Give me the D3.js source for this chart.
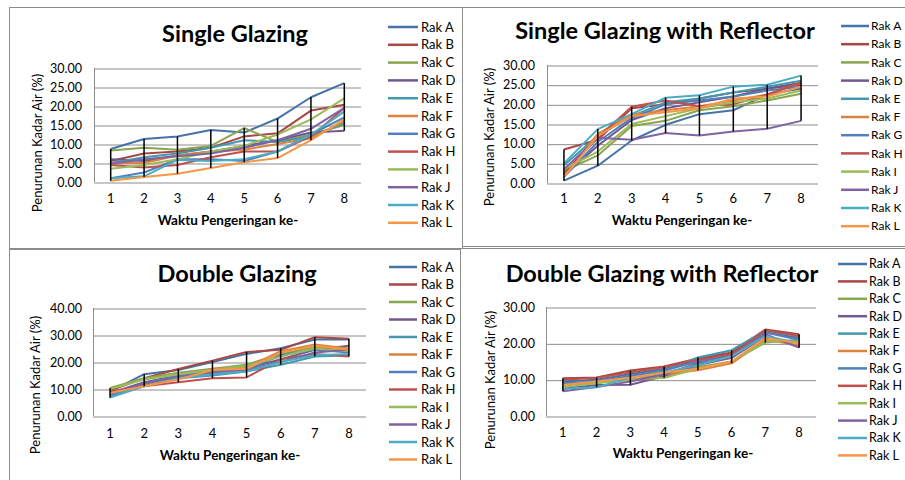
<!DOCTYPE html>
<html>
<head>
<meta charset="utf-8">
<script src="https://cdn.jsdelivr.net/npm/d3@7"></script>
<style>
  body { margin: 0; background: #fff; }
  svg text { font-family: Lato, "Open Sans", sans-serif; fill: #000; }
</style>
</head>
<body>
<div id="chart"></div>
<script>
// Penurunan kadar air per rak, 4 panels

var categories = [1, 2, 3, 4, 5, 6, 7, 8];

var rak_names = ["Rak A", "Rak B", "Rak C", "Rak D", "Rak E", "Rak F",
                 "Rak G", "Rak H", "Rak I", "Rak J", "Rak K", "Rak L"];

var rak_colors = ["#4572A7", "#AA4643", "#89A54E", "#71588F", "#4198AF", "#DB843D",
                  "#4F81BD", "#C0504D", "#9BBB59", "#8064A2", "#4BACC6", "#F79646"];

// Single Glazing
var single_glazing = [
  [8.7, 11.3, 12.0, 13.7, 13.0, 16.7, 22.3, 26.0],
  [5.5, 7.5, 8.0, 9.0, 12.0, 12.8, 18.8, 20.3],
  [8.3, 9.0, 8.5, 9.5, 14.2, 10.5, 12.5, 15.0],
  [6.0, 5.5, 7.0, 8.0, 9.5, 11.0, 13.0, 13.5],
  [5.0, 6.5, 7.5, 9.0, 11.0, 10.5, 12.0, 15.5],
  [5.0, 5.0, 7.0, 8.0, 8.5, 10.0, 11.5, 16.0],
  [1.0, 2.5, 6.0, 6.0, 5.5, 8.0, 12.5, 17.0],
  [4.5, 3.8, 4.5, 6.5, 8.0, 8.0, 12.0, 19.5],
  [3.5, 4.5, 6.0, 8.0, 9.5, 12.5, 16.5, 22.0],
  [4.8, 6.0, 6.8, 7.5, 9.0, 11.0, 14.0, 19.5],
  [1.0, 1.5, 5.8, 5.5, 6.0, 8.0, 12.5, 18.5],
  [0.3, 1.3, 2.2, 3.7, 5.2, 6.3, 11.0, 16.5]
];

// Single Glazing with Reflector
var single_reflector = [
  [0.6, 4.4, 10.8, 14.8, 17.5, 18.5, 22.5, 24.0],
  [8.5, 11.0, 19.0, 20.0, 21.5, 23.0, 24.0, 25.0],
  [3.0, 7.0, 14.5, 15.8, 18.5, 19.5, 21.0, 22.7],
  [2.0, 9.5, 16.0, 19.0, 20.5, 22.0, 24.0, 25.5],
  [4.5, 12.0, 17.0, 20.5, 21.5, 23.0, 24.5, 26.0],
  [2.0, 12.5, 17.5, 18.5, 19.5, 21.0, 22.5, 25.5],
  [1.5, 10.5, 16.5, 20.0, 21.0, 22.0, 23.5, 24.5],
  [2.5, 11.5, 19.4, 21.0, 19.5, 20.0, 22.5, 25.5],
  [3.5, 8.0, 15.0, 17.0, 19.0, 20.5, 21.5, 23.5],
  [3.5, 11.5, 11.0, 12.7, 12.1, 13.1, 13.8, 15.8],
  [5.0, 13.7, 17.5, 21.7, 22.3, 24.5, 25.0, 27.3],
  [1.5, 12.0, 17.0, 18.0, 19.0, 21.5, 22.0, 24.5]
];

// Double Glazing
var double_glazing = [
  [9.0, 15.5, 17.0, 20.0, 23.0, 25.1, 28.3, 28.3],
  [9.5, 14.0, 17.4, 20.5, 23.7, 24.5, 29.2, 28.6],
  [10.4, 14.0, 16.0, 17.5, 19.0, 23.0, 25.5, 24.5],
  [8.5, 12.5, 15.0, 16.5, 17.5, 21.0, 24.5, 26.0],
  [7.5, 11.5, 14.0, 15.0, 16.5, 19.0, 22.0, 22.5],
  [9.0, 11.5, 14.0, 17.5, 18.0, 24.0, 26.5, 25.0],
  [8.0, 12.0, 15.0, 16.5, 17.0, 22.5, 24.5, 23.5],
  [9.0, 11.0, 12.5, 14.0, 14.3, 21.0, 23.0, 22.0],
  [10.0, 13.5, 15.5, 17.0, 18.5, 22.0, 25.0, 24.0],
  [8.5, 12.0, 14.5, 16.0, 17.0, 20.0, 23.5, 24.5],
  [6.8, 11.0, 14.0, 15.5, 16.5, 20.0, 22.5, 23.0],
  [8.5, 11.0, 13.5, 17.0, 17.5, 23.5, 26.0, 24.5]
];

// Double Glazing with Reflector
var double_reflector = [
  [9.5, 10.0, 11.5, 13.0, 15.0, 17.0, 23.0, 21.5],
  [10.4, 10.6, 12.5, 13.6, 15.8, 17.5, 23.8, 22.5],
  [8.5, 9.5, 10.0, 10.5, 13.5, 15.0, 20.2, 21.0],
  [7.5, 8.5, 8.6, 11.0, 14.0, 16.0, 22.0, 19.0],
  [9.0, 9.0, 11.0, 12.5, 16.1, 18.1, 23.5, 22.0],
  [8.0, 9.5, 10.0, 11.5, 12.6, 14.5, 21.0, 19.5],
  [9.0, 9.5, 11.0, 12.5, 15.0, 16.5, 23.0, 21.0],
  [10.0, 10.5, 12.0, 13.5, 15.5, 17.0, 23.5, 22.0],
  [8.0, 9.0, 10.0, 10.5, 13.0, 15.0, 20.5, 20.5],
  [6.8, 8.0, 9.5, 11.5, 14.5, 16.0, 22.5, 18.8],
  [7.5, 7.9, 10.5, 12.0, 14.0, 16.5, 22.0, 20.0],
  [8.5, 9.5, 10.5, 12.0, 13.0, 15.0, 21.5, 20.0]
];

var ticks_sg = [0, 5, 10, 15, 20, 25, 30];
var ticks_sr = [0, 5, 10, 15, 20, 25, 30];
var ticks_dg = [0, 10, 20, 30, 40];
var ticks_dr = [0, 10, 20, 30];

var x_title = "Waktu Pengeringan ke-";
var y_title = "Penurunan Kadar Air (%)";

var width = 905;
var height = 480;

var svg = d3
  .select("#chart")
  .append("svg")
  .attr("width", width)
  .attr("height", height);

svg.append("rect").attr("width", width).attr("height", height).attr("fill", "#fff");

var panels = [
  { title: "Single Glazing", data: single_glazing, ticks: ticks_sg,
    box: [9.5, 7.5, 462.5, 248.5], plot: [94, 68, 361, 182],
    titleXY: [235, 42], tickX: 82, catY: 203, xTitleXY: [228, 225], yTitleXY: [37, 143],
    legend: [388, 418, 421, 27, 17.8, 13] },
  { title: "Single Glazing with Reflector", data: single_reflector, ticks: ticks_sr,
    box: [462.5, 7.5, 910, 246.5], plot: [547, 65, 818, 183],
    titleXY: [665, 39], tickX: 535, catY: 203, xTitleXY: [682, 225], yTitleXY: [489, 137],
    legend: [841, 869, 871, 26, 18.2, 12] },
  { title: "Double Glazing", data: double_glazing, ticks: ticks_dg,
    box: [9.5, 249.5, 460.5, 485], plot: [93, 308, 366, 416],
    titleXY: [237, 282], tickX: 82, catY: 438, xTitleXY: [230, 460], yTitleXY: [35, 385],
    legend: [389, 417, 421, 267, 17.5, 13] },
  { title: "Double Glazing with Reflector", data: double_reflector, ticks: ticks_dr,
    box: [460.5, 248.5, 910, 485], plot: [546, 307, 816, 416],
    titleXY: [662, 282], tickX: 535, catY: 437, xTitleXY: [683, 458], yTitleXY: [490, 380],
    legend: [838, 867, 869, 264, 17.4, 12.5] }
];

function draw_panel(p) {
  var g = svg.append("g");

  g.append("rect")
    .attr("x", p.box[0])
    .attr("y", p.box[1])
    .attr("width", p.box[2] - p.box[0])
    .attr("height", p.box[3] - p.box[1])
    .attr("fill", "#fff")
    .attr("stroke", "#8c8c8c")
    .attr("stroke-width", 1);

  var xScale = d3
    .scaleBand()
    .domain(categories)
    .range([p.plot[0], p.plot[2]]);

  var yScale = d3
    .scaleLinear()
    .domain([0, d3.max(p.ticks)])
    .range([p.plot[3], p.plot[1]]);

  // gridlines + y labels
  var yAxis = d3.axisLeft(yScale)
    .tickValues(p.ticks)
    .tickSize(-(p.plot[2] - p.plot[0]))
    .tickPadding(p.plot[0] - p.tickX)
    .tickFormat(d3.format(".2f"));

  var ya = g.append("g")
    .attr("transform", "translate(" + p.plot[0] + ",0)")
    .call(yAxis);
  ya.select(".domain").attr("stroke", "#8c8c8c").attr("d", "M0.5," + p.plot[1] + "V" + p.plot[3]);
  ya.selectAll(".tick line").attr("stroke", "#8c8c8c").attr("transform", "translate(0,0.5)");
  ya.selectAll(".tick text")
    .attr("x", -(p.plot[0] - p.tickX))
    .style("font-size", "12.5px")
    .style("font-family", "Lato, sans-serif");

  // category labels
  var xAxis = d3.axisBottom(xScale).tickSize(0).tickPadding(0);
  var xa = g.append("g")
    .attr("transform", "translate(0," + p.catY + ")")
    .call(xAxis);
  xa.select(".domain").remove();
  xa.selectAll(".tick text")
    .attr("y", 0)
    .attr("dy", 0)
    .style("font-size", "13px")
    .style("font-family", "Lato, sans-serif");

  // series lines
  var line = d3.line()
    .x(function(d, i) { return xScale(categories[i]) + xScale.bandwidth() / 2; })
    .y(function(d) { return yScale(d); });

  g.selectAll("path.rak")
    .data(p.data)
    .enter()
    .append("path")
    .attr("class", "rak")
    .attr("d", line)
    .attr("fill", "none")
    .attr("stroke", function(d, i) { return rak_colors[i]; })
    .attr("stroke-width", 2)
    .attr("stroke-linejoin", "round");

  // high-low lines
  var hilo = categories.map(function(c, i) {
    return {
      cat: c,
      hi: d3.max(p.data, function(s) { return s[i]; }),
      lo: d3.min(p.data, function(s) { return s[i]; })
    };
  });

  g.selectAll("line.hilo")
    .data(hilo)
    .enter()
    .append("line")
    .attr("class", "hilo")
    .attr("x1", function(d) { return xScale(d.cat) + xScale.bandwidth() / 2; })
    .attr("x2", function(d) { return xScale(d.cat) + xScale.bandwidth() / 2; })
    .attr("y1", function(d) { return yScale(d.hi); })
    .attr("y2", function(d) { return yScale(d.lo); })
    .attr("stroke", "#000")
    .attr("stroke-width", 1.5);

  // titles
  g.append("text")
    .attr("x", p.titleXY[0])
    .attr("y", p.titleXY[1])
    .attr("text-anchor", "middle")
    .style("font-size", "23.5px")
    .style("font-weight", "bold")
    .text(p.title);

  g.append("text")
    .attr("x", p.xTitleXY[0])
    .attr("y", p.xTitleXY[1])
    .attr("text-anchor", "middle")
    .style("font-size", "13.5px")
    .style("font-weight", "bold")
    .text(x_title);

  g.append("text")
    .attr("transform", "translate(" + p.yTitleXY[0] + "," + p.yTitleXY[1] + ")rotate(-90)")
    .attr("text-anchor", "middle")
    .attr("dy", "0.35em")
    .style("font-size", "13px")
    .text(y_title);

  // legend
  var lg = g.selectAll("g.leg")
    .data(rak_names)
    .enter()
    .append("g")
    .attr("class", "leg")
    .attr("transform", function(d, i) {
      return "translate(0," + (p.legend[3] + i * p.legend[4]) + ")";
    });

  lg.append("line")
    .attr("x1", p.legend[0])
    .attr("x2", p.legend[1])
    .attr("stroke", function(d, i) { return rak_colors[i]; })
    .attr("stroke-width", 2.5);

  lg.append("text")
    .attr("x", p.legend[2])
    .attr("dy", "0.35em")
    .style("font-size", p.legend[5] + "px")
    .text(function(d) { return d; });
}

panels.forEach(draw_panel);
</script>
</body>
</html>
